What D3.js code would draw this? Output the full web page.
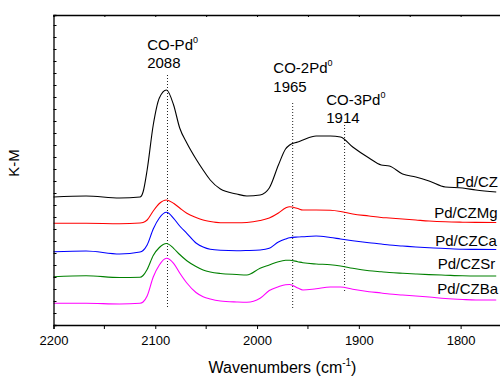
<!DOCTYPE html>
<html>
<head>
<meta charset="utf-8">
<script src="https://cdn.jsdelivr.net/npm/d3@7"></script>
<style>
  html, body { margin: 0; padding: 0; background: #fff; overflow: hidden; }
  svg { display: block; font-family: "Liberation Sans", Arial, sans-serif; }
</style>
</head>
<body>
<div id="chart"></div>
<script>
// Wavenumber grid (cm-1), shared by every spectrum
const wavenumbers = [2200, 2168, 2135, 2115, 2112, 2108, 2102, 2096, 2089, 2082, 2076, 2069, 2060, 2053,
    2046, 2036, 2020, 2010, 1997, 1988, 1979, 1972, 1968, 1960, 1955, 1942, 1928, 1918, 1906, 1890,
    1878, 1870, 1857, 1844, 1831, 1815, 1798, 1785, 1765];

// K-M values, already shifted vertically as in the stacked plot
const kmCZ = [1.28, 1.29, 1.27, 1.28, 1.33, 1.55, 2.00, 2.27, 2.35, 2.20, 1.97, 1.82, 1.66, 1.55,
    1.45, 1.36, 1.31, 1.29, 1.30, 1.37, 1.60, 1.76, 1.80, 1.83, 1.85, 1.89, 1.89, 1.88, 1.78, 1.67,
    1.60, 1.59, 1.51, 1.48, 1.44, 1.38, 1.37, 1.35, 1.33];
const kmCZMg = [1.017, 1.017, 1.013, 1.02, 1.025, 1.05, 1.14, 1.215, 1.25, 1.217, 1.17, 1.117, 1.075, 1.05,
    1.035, 1.023, 1.022, 1.025, 1.045, 1.07, 1.12, 1.17, 1.183, 1.165, 1.15, 1.15, 1.147, 1.135, 1.11, 1.09,
    1.075, 1.07, 1.06, 1.05, 1.04, 1.032, 1.028, 1.026, 1.025];
const kmCZCa = [0.733, 0.74, 0.71, 0.73, 0.745, 0.80, 0.96, 1.07, 1.127, 1.067, 0.99, 0.917, 0.82, 0.78,
    0.757, 0.747, 0.743, 0.745, 0.75, 0.767, 0.83, 0.86, 0.873, 0.88, 0.883, 0.89, 0.875, 0.86, 0.843, 0.823,
    0.81, 0.80, 0.79, 0.78, 0.772, 0.765, 0.758, 0.756, 0.755];
const kmCZSr = [0.483, 0.493, 0.475, 0.477, 0.495, 0.555, 0.695, 0.775, 0.815, 0.767, 0.705, 0.643, 0.585, 0.55,
    0.53, 0.515, 0.505, 0.50, 0.567, 0.60, 0.633, 0.647, 0.648, 0.633, 0.623, 0.61, 0.603, 0.59, 0.567, 0.543,
    0.532, 0.525, 0.517, 0.51, 0.504, 0.498, 0.492, 0.49, 0.49];
const kmCZBa = [0.217, 0.217, 0.21, 0.217, 0.23, 0.29, 0.48, 0.60, 0.667, 0.617, 0.52, 0.42, 0.325, 0.283,
    0.26, 0.24, 0.23, 0.227, 0.267, 0.345, 0.383, 0.403, 0.405, 0.37, 0.35, 0.363, 0.38, 0.38, 0.357, 0.333,
    0.32, 0.31, 0.30, 0.29, 0.28, 0.265, 0.255, 0.25, 0.25];

const sampleNames = ["Pd/CZ", "Pd/CZMg", "Pd/CZCa", "Pd/CZSr", "Pd/CZBa"];
const sampleValues = [kmCZ, kmCZMg, kmCZCa, kmCZSr, kmCZBa];
const sampleColors = ["#000000", "#ff0000", "#0000ff", "#008000", "#ff00ff"];

// Band assignments: species, position, and top/bottom of the guide line (K-M units)
const bandSpecies = ["CO-Pd", "CO-2Pd", "CO-3Pd"];
const bandPositions = [2088, 1965, 1914];
const bandLineTop = [2.50, 2.22, 2.00];
const bandLineBottom = [0.17, 0.17, 0.32];

const xTickValues = [2200, 2100, 2000, 1900, 1800];

const WIDTH = 500;
const HEIGHT = 377;
const LEFT = 53.5;
const RIGHT = 511.5;
const TOP = 15;
const BOTTOM = 325;
const FONT_SIZE = 15;

// Where the text goes (data coordinates), layout only
const bandTextAt = [[2108, 2.75, 2.57], [1984, 2.52, 2.33], [1932, 2.20, 2.02]];
const sampleTextAt = [[1805, 1.38], [1826, 1.07], [1825, 0.79], [1822.5, 0.56], [1823, 0.31]];

const xScale = d3.scaleLinear().domain([2200, 1750]).range([LEFT, RIGHT]);
const yScale = d3.scaleLinear().domain([0, 3.1]).range([BOTTOM, TOP]);

const svg = d3.select("#chart").append("svg")
    .attr("width", WIDTH)
    .attr("height", HEIGHT);

// Guide lines for the band positions (drawn first, under the spectra)
svg.append("g")
    .selectAll("line")
    .data(bandPositions)
    .join("line")
    .attr("x1", d => xScale(d))
    .attr("x2", d => xScale(d))
    .attr("y1", (_d, i) => yScale(bandLineTop[i]))
    .attr("y2", (_d, i) => yScale(bandLineBottom[i]))
    .attr("stroke", "#222")
    .attr("stroke-width", 1)
    .attr("stroke-dasharray", "1,2");

// Spectra
const line = d3.line()
    .x((_v, i) => xScale(wavenumbers[i]))
    .y(v => yScale(v))
    .curve(d3.curveMonotoneX);

svg.append("g")
    .selectAll("path")
    .data(sampleValues)
    .join("path")
    .attr("fill", "none")
    .attr("stroke", (_d, i) => sampleColors[i])
    .attr("stroke-width", 1.1)
    .attr("d", line);

// Axes: bottom with labels, top and left as plain frame with inner ticks
const xAxis = svg.append("g")
    .attr("transform", `translate(0, ${BOTTOM})`)
    .call(d3.axisBottom(xScale)
        .tickValues(xTickValues)
        .tickSize(4)
        .tickPadding(7)
        .tickFormat(d3.format("d")));
xAxis.append("g")
    .selectAll("line")
    .data([2150, 2050, 1950, 1850])
    .join("line")
    .attr("x1", d => xScale(d))
    .attr("x2", d => xScale(d))
    .attr("y2", 4)
    .attr("stroke", "#000");

svg.append("g")
    .attr("transform", `translate(0, ${TOP})`)
    .call(d3.axisBottom(xScale)
        .tickValues(d3.range(2200, 1749, -50))
        .tickSize(2)
        .tickFormat(""));

svg.append("g")
    .attr("transform", `translate(${LEFT}, 0)`)
    .call(d3.axisRight(yScale)
        .tickValues(d3.range(0.12, 3.1, 0.12))
        .tickSize(3)
        .tickFormat(""));

svg.selectAll(".domain")
    .attr("stroke", "#000")
    .attr("stroke-width", 1.3);
svg.selectAll(".tick line")
    .attr("stroke", "#000")
    .attr("stroke-width", 1);
xAxis.selectAll(".tick text")
    .attr("fill", "#000")
    .style("font-size", "13px")
    .style("font-family", "'Liberation Sans', Arial, sans-serif");

// Band labels with superscript 0
bandSpecies.forEach((name, i) => {
    const [wn, yName, yPos] = bandTextAt[i];
    const label = svg.append("text")
        .attr("x", xScale(wn))
        .attr("y", yScale(yName))
        .style("font-size", `${FONT_SIZE}px`)
        .attr("fill", "#000");
    label.append("tspan").text(name);
    label.append("tspan").attr("dy", -7).style("font-size", "9px").text("0");

    svg.append("text")
        .attr("x", xScale(wn))
        .attr("y", yScale(yPos))
        .style("font-size", `${FONT_SIZE}px`)
        .attr("fill", "#000")
        .text(bandPositions[i]);
});

// Sample names at the right end of each trace
svg.append("g")
    .selectAll("text")
    .data(sampleNames)
    .join("text")
    .attr("x", (_d, i) => xScale(sampleTextAt[i][0]))
    .attr("y", (_d, i) => yScale(sampleTextAt[i][1]))
    .style("font-size", `${FONT_SIZE}px`)
    .attr("fill", "#000")
    .text(d => d);

// Axis titles
const xTitle = svg.append("text")
    .attr("x", (LEFT + RIGHT) / 2)
    .attr("y", 373)
    .attr("text-anchor", "middle")
    .style("font-size", "16px")
    .attr("fill", "#000");
xTitle.append("tspan").text("Wavenumbers (cm");
xTitle.append("tspan").attr("dy", -7).style("font-size", "10px").text("-1");
xTitle.append("tspan").attr("dy", 7).text(")");

svg.append("text")
    .attr("transform", "translate(19, 163) rotate(-90)")
    .attr("text-anchor", "middle")
    .style("font-size", `${FONT_SIZE}px`)
    .attr("fill", "#000")
    .text("K-M");
</script>
</body>
</html>
